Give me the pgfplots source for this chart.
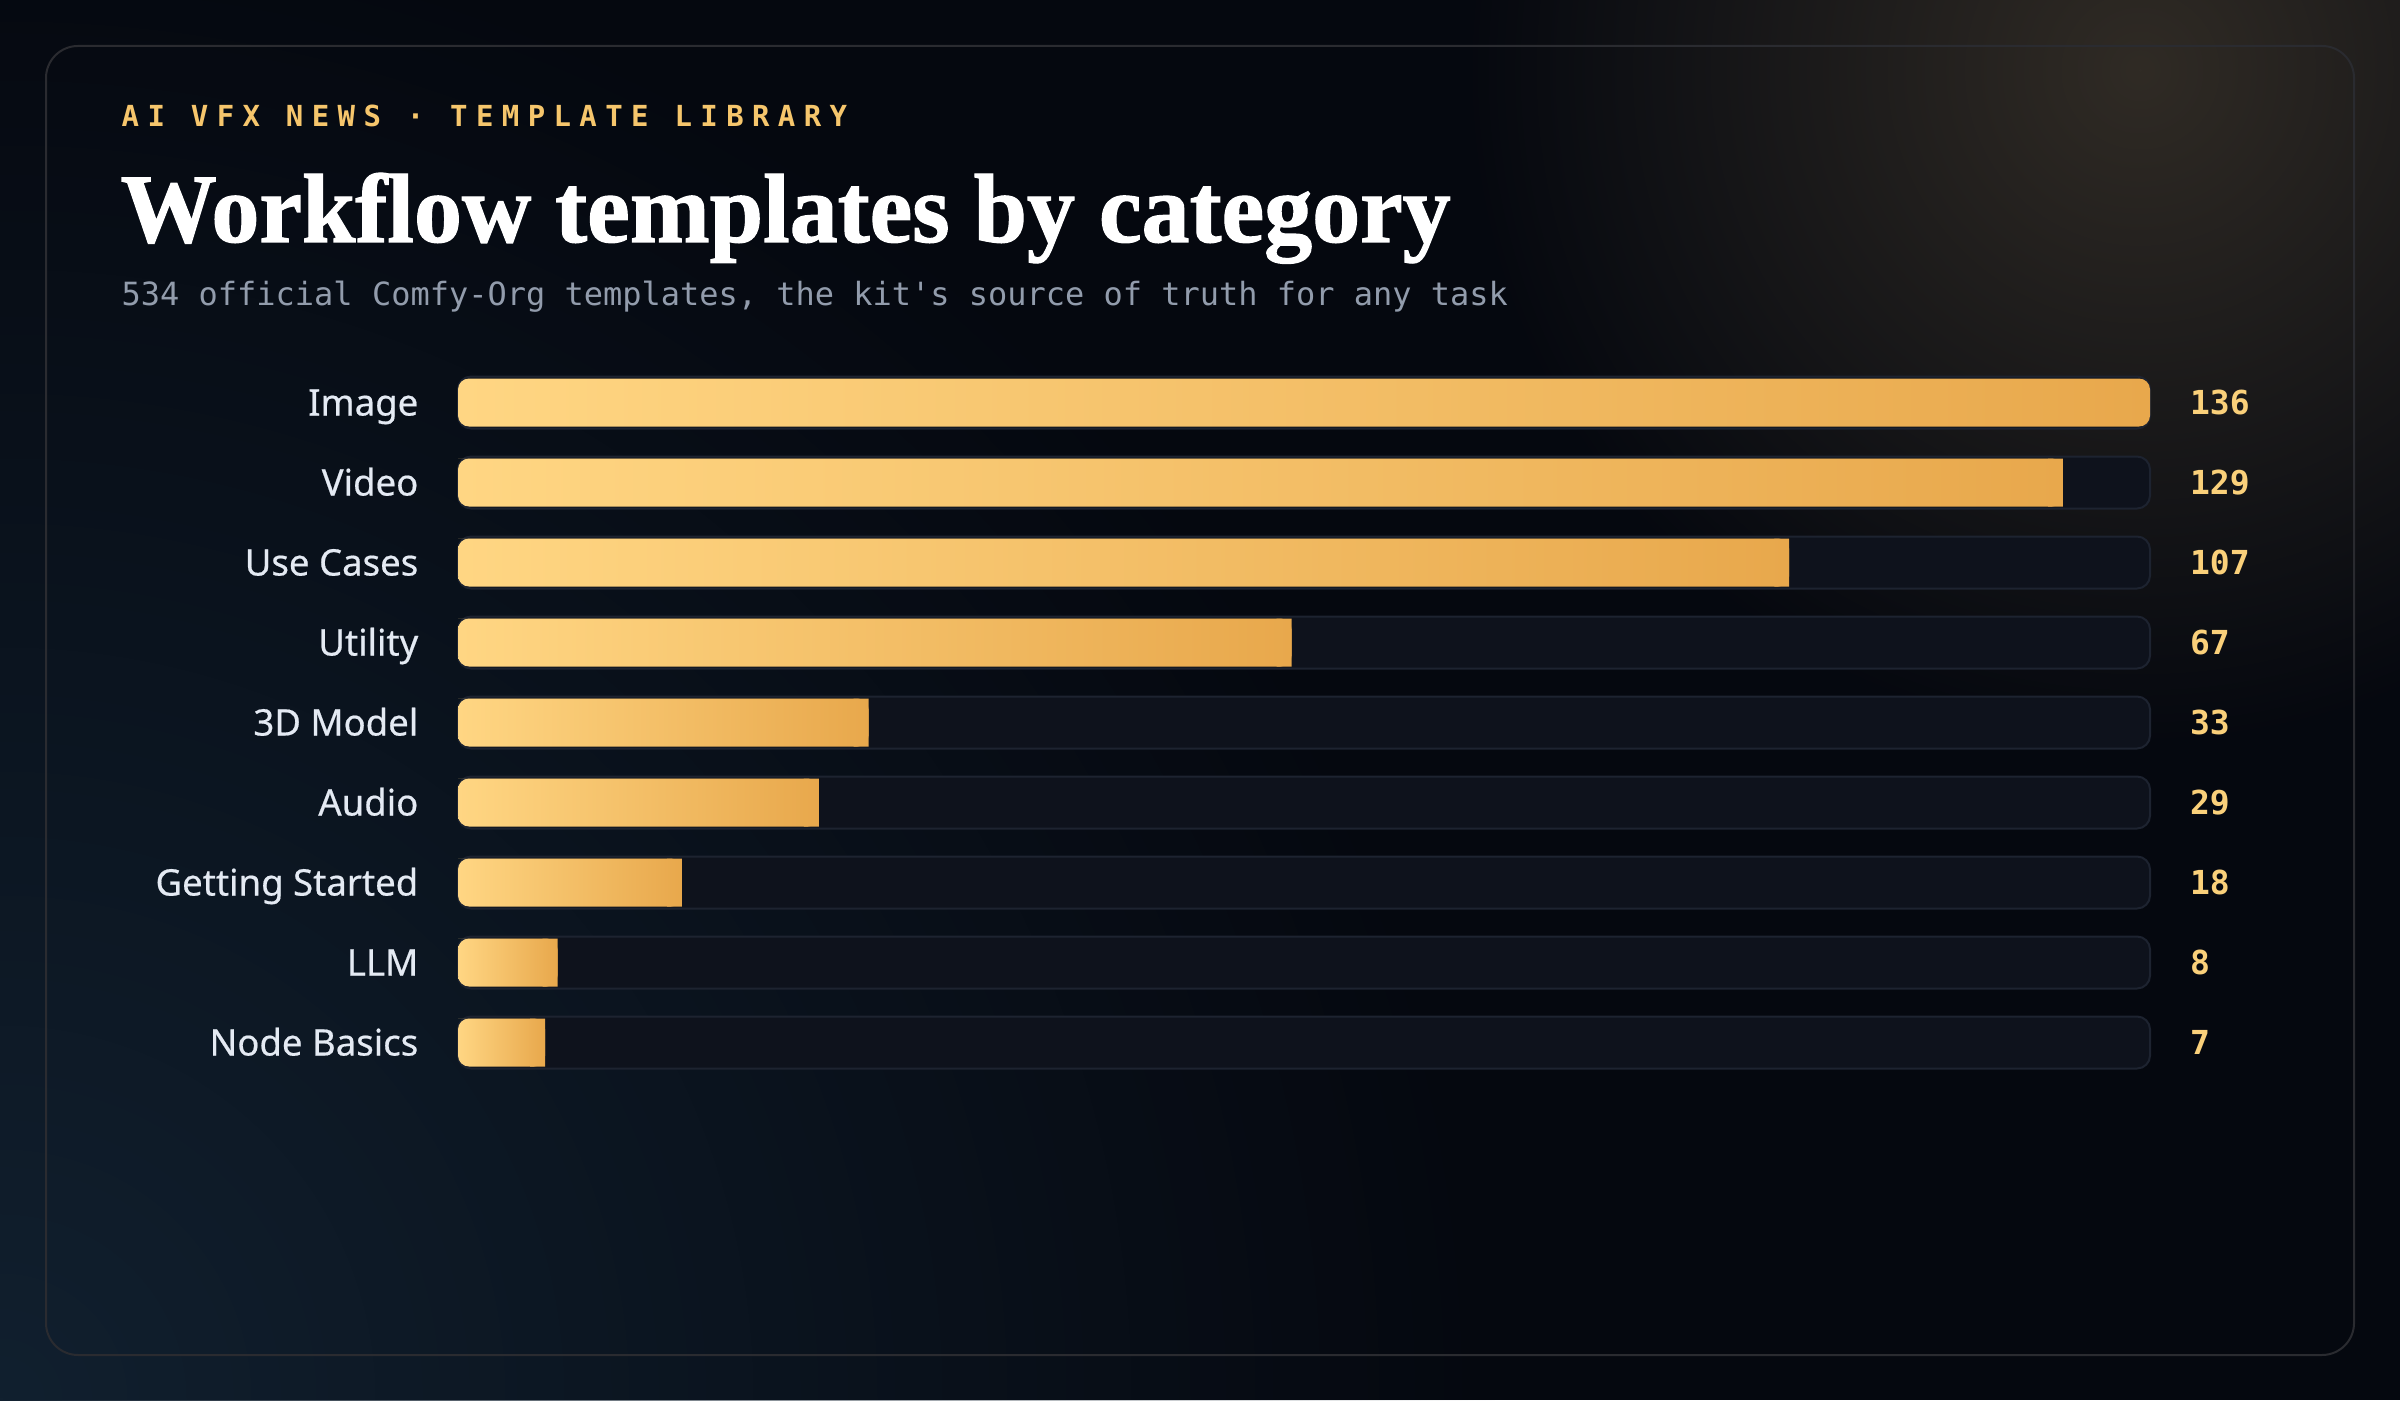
\documentclass[border=0pt]{standalone}
\usepackage{pgfplots}
\pgfplotsset{compat=1.18}
\usepackage{pgfplotstable}
\usepackage{fontspec}
\usepackage{graphicx}
\usetikzlibrary{fadings}

\newfontfamily\labelfont[FakeBold=0.5]{Noto Sans}
\newfontfamily\monofont{DejaVu Sans Mono}
\newfontfamily\kickerfont[LetterSpace=29]{DejaVu Sans Mono}
\newfontfamily\titlefont[FakeBold=1.2]{Liberation Serif}

\definecolor{bg}{HTML}{05080F}
\definecolor{glowblue}{HTML}{11202F}
\definecolor{glowwarm}{HTML}{302B25}
\definecolor{cardborder}{HTML}{2A2B30}
\definecolor{kicker}{HTML}{F6C66C}
\definecolor{subtitle}{HTML}{929CAC}
\definecolor{labeltext}{HTML}{E4EAF3}
\definecolor{valuetext}{HTML}{FAD07A}
\definecolor{trackfill}{HTML}{0E121C}
\definecolor{trackborder}{HTML}{1D2330}
\definecolor{goldL}{HTML}{FFD683}
\definecolor{goldR}{HTML}{E8A84C}

\pgfdeclarehorizontalshading{goldbar}{100bp}{color(0bp)=(goldL); color(25bp)=(goldL); color(75bp)=(goldR); color(100bp)=(goldR)}

\tikzfading[name=glowfade, inner color=transparent!0, outer color=transparent!100]

\pgfplotsset{
  fillbar/.style={xbar, bar shift=0pt, bar width=4.8mm, draw=none,
    shade, shading=goldbar, shading angle=0, rounded corners=1.1mm},
  % square end piece; its outline runs back to x=0 along the bar edge so that
  % its bounding box, and so its gradient, is the same as the bar's
  tail/.style={draw=none, mark=none, sharp plot, shade, shading=goldbar, shading angle=0},
}

\pgfplotstableread{
idx value track
0 136 136
1 129 136
2 107 136
3 67 136
4 33 136
5 29 136
6 18 136
7 8 136
8 7 136
}\cats

\begin{document}
\begin{tikzpicture}
\useasboundingbox (0,0) rectangle (240mm,140mm);
\fill[bg] (0,0) rectangle (240mm,140mm);
\begin{scope}
\clip (0,0) rectangle (240mm,140mm);
\fill[glowblue, path fading=glowfade] (0,0) circle (150mm);
\fill[glowwarm, path fading=glowfade] (214mm,133mm) circle (68mm);
\end{scope}
\draw[cardborder, line width=0.2mm, rounded corners=3.2mm] (4.6mm,4.5mm) rectangle (235.4mm,135.4mm);

\node[anchor=base west, inner sep=0pt, text=kicker] at (12.1mm,127.3mm)
  {\kickerfont\bfseries\fontsize{8.25pt}{10pt}\selectfont AI VFX NEWS · TEMPLATE LIBRARY};
\node[anchor=base west, inner sep=0pt, text=white] at (12.0mm,115.8mm)
  {\resizebox{133mm}{\height}{\titlefont\bfseries\fontsize{27.9pt}{30pt}\selectfont Workflow templates by category}};
\node[anchor=base west, inner sep=0pt, text=subtitle] at (12.1mm,109.4mm)
  {\monofont\fontsize{9.1pt}{11pt}\selectfont 534 official Comfy-Org templates, the kit's source of truth for any task};

\begin{axis}[
  at={(45.8mm,31.75mm)}, anchor=south west,
  scale only axis, width=169.2mm, height=72mm,
  xmin=0, xmax=136, ymin=-0.5, ymax=8.5, y dir=reverse,
  axis lines=left, axis line style={draw=none},
  xtick=\empty, ytick={0,...,8},
  yticklabels={Image,Video,Use Cases,Utility,3D Model,Audio,Getting Started,LLM,Node Basics},
  major tick length=0pt,
  yticklabel style={anchor=base east, inner sep=0pt, xshift=-3.9mm, yshift=-1.3mm,
    font=\labelfont\fontsize{10.4pt}{12pt}\selectfont, text=labeltext},
  clip=false,
  /pgf/number format/assume math mode=true,
]
% tracks with value labels
\addplot[xbar, bar shift=0pt, bar width=5.2mm, fill=trackfill, draw=trackborder,
  line width=0.2mm, rounded corners=1.3mm,
  point meta=explicit,
  nodes near coords={\pgfmathprintnumber{\pgfplotspointmeta}},
  every node near coord/.append style={anchor=base west, inner sep=0pt, xshift=3.9mm, yshift=-1.2mm,
    text=valuetext, font=\monofont\bfseries\fontsize{9.4pt}{11pt}\selectfont}]
  table[x=track, y=idx, meta=value]{\cats};
% value bars, one path each so every bar has its own gradient
\addplot[fillbar] coordinates {(136,0)};
\addplot[fillbar] coordinates {(129,1)};
\addplot[fillbar] coordinates {(107,2)};
\addplot[fillbar] coordinates {(67,3)};
\addplot[fillbar] coordinates {(33,4)};
\addplot[fillbar] coordinates {(29,5)};
\addplot[fillbar] coordinates {(18,6)};
\addplot[fillbar] coordinates {(8,7)};
\addplot[fillbar] coordinates {(7,8)};
% square right ends of the partial bars
\addplot[tail] coordinates {(0,0.7) (129,0.7) (129,1.3) (127.8,1.3) (127.8,0.7)};
\addplot[tail] coordinates {(0,1.7) (107,1.7) (107,2.3) (105.8,2.3) (105.8,1.7)};
\addplot[tail] coordinates {(0,2.7) (67,2.7) (67,3.3) (65.8,3.3) (65.8,2.7)};
\addplot[tail] coordinates {(0,3.7) (33,3.7) (33,4.3) (31.8,4.3) (31.8,3.7)};
\addplot[tail] coordinates {(0,4.7) (29,4.7) (29,5.3) (27.8,5.3) (27.8,4.7)};
\addplot[tail] coordinates {(0,5.7) (18,5.7) (18,6.3) (16.8,6.3) (16.8,5.7)};
\addplot[tail] coordinates {(0,6.7) (8,6.7) (8,7.3) (6.8,7.3) (6.8,6.7)};
\addplot[tail] coordinates {(0,7.7) (7,7.7) (7,8.3) (5.8,8.3) (5.8,7.7)};
\end{axis}
\end{tikzpicture}
\end{document}
